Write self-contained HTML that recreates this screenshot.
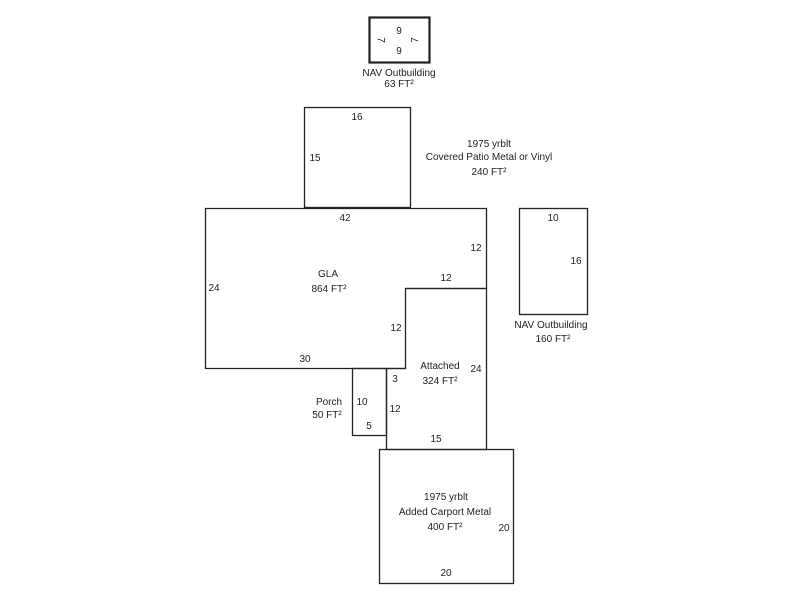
<!DOCTYPE html>
<html><head><meta charset="utf-8"><style>
html,body{margin:0;padding:0;background:#fff;}
svg{display:block;}
text{font-family:"Liberation Sans",Arial,sans-serif;font-size:10px;fill:#222;}
</style></head><body>
<svg width="800" height="600" viewBox="0 0 800 600" xmlns="http://www.w3.org/2000/svg">
<g fill="none" stroke="#222" stroke-width="1.3">
<rect x="369.5" y="17.5" width="60" height="45" stroke-width="2.2"/>
<rect x="304.5" y="107.5" width="106" height="100"/>
<path d="M205.5 208.5 H486.5 V288.5 H405.5 V368.5 H205.5 Z"/>
<path d="M405.5 288.5 H486.5 V449.5 H386.5 V368.5 H405.5"/>
<rect x="352.5" y="368.5" width="34" height="67"/>
<rect x="379.5" y="449.5" width="134" height="134"/>
<rect x="519.5" y="208.5" width="68" height="106"/>
</g>
<g text-anchor="middle">
<text x="399" y="34">9</text>
<text x="399" y="54">9</text>
<text x="381" y="43" transform="rotate(90 381 40)">7</text>
<text x="415" y="43" transform="rotate(-90 415 40)">7</text>
<text x="399" y="76">NAV Outbuilding</text>
<text x="399" y="87">63 FT²</text>
<text x="357" y="120">16</text>
<text x="315" y="161">15</text>
<text x="489" y="147">1975 yrblt</text>
<text x="489" y="160">Covered Patio Metal or Vinyl</text>
<text x="489" y="175">240 FT²</text>
<text x="345" y="221">42</text>
<text x="476" y="251">12</text>
<text x="214" y="291">24</text>
<text x="328" y="277">GLA</text>
<text x="329" y="292">864 FT²</text>
<text x="446" y="281">12</text>
<text x="396" y="331">12</text>
<text x="305" y="362">30</text>
<text x="553" y="221">10</text>
<text x="576" y="264">16</text>
<text x="551" y="328">NAV Outbuilding</text>
<text x="553" y="342">160 FT²</text>
<text x="440" y="369">Attached</text>
<text x="440" y="384">324 FT²</text>
<text x="476" y="372">24</text>
<text x="395" y="382">3</text>
<text x="329" y="405">Porch</text>
<text x="327" y="418">50 FT²</text>
<text x="362" y="405">10</text>
<text x="395" y="412">12</text>
<text x="369" y="429">5</text>
<text x="436" y="442">15</text>
<text x="446" y="500">1975 yrblt</text>
<text x="445" y="515">Added Carport Metal</text>
<text x="445" y="530">400 FT²</text>
<text x="504" y="531">20</text>
<text x="446" y="576">20</text>
</g>
</svg>
</body></html>
